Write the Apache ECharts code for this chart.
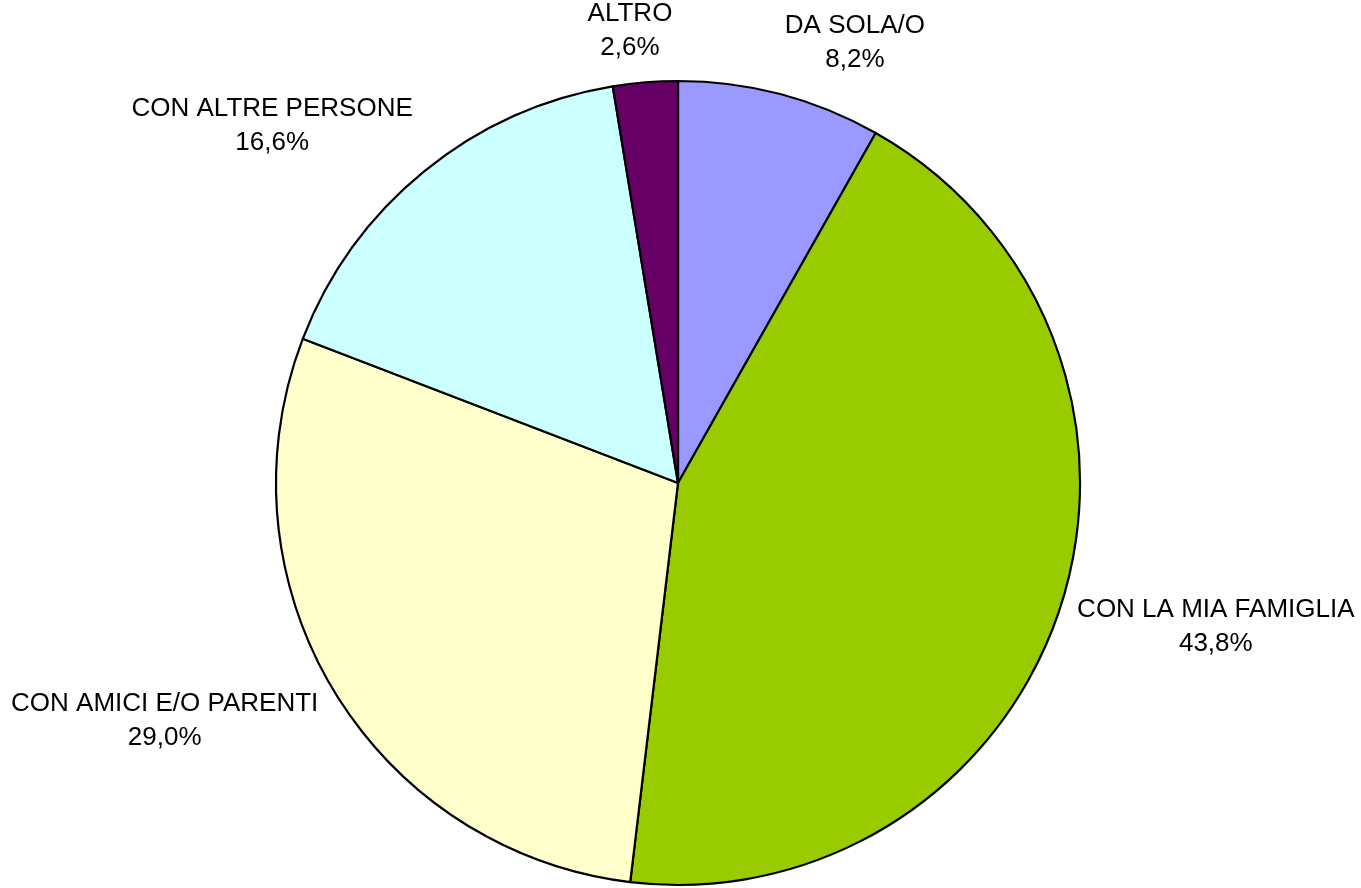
<!DOCTYPE html>
<html><head><meta charset="utf-8">
<script src="https://cdn.jsdelivr.net/npm/echarts@6/dist/echarts.min.js"></script>
<style>html,body{margin:0;padding:0;background:#fff}#c{width:1361px;height:888px}</style>
</head><body><div id="c"></div>
<script>
const categories = ['DA SOLA/O', 'CON LA MIA FAMIGLIA', 'CON AMICI E/O PARENTI', 'CON ALTRE PERSONE', 'ALTRO'];
const values = [8.2, 43.8, 29.0, 16.6, 2.6];
const colors = ['#9999FF', '#99CC00', '#FFFFCC', '#CCFFFF', '#660066'];

// layout constants
const CX = 678, CY = 483, R = 402;
const LABEL_GAP = 18, KX = 4, KY = 1.2;

const total = values.reduce((a, b) => a + b, 0);
const midAngles = [];
let cum = 0;
values.forEach(v => { midAngles.push((cum + v / 2) / total * 2 * Math.PI); cum += v; });

function fmt(v) { return v.toFixed(1).replace('.', ',') + '%'; }
function clampF(x, k) { return Math.sign(x) * Math.min(1, Math.abs(x) * k); }

const chart = echarts.init(document.getElementById('c'), null, { renderer: 'canvas' });
chart.setOption({
  animation: false,
  backgroundColor: '#fff',
  series: [{
    type: 'pie',
    center: [CX, CY],
    radius: R,
    startAngle: 90,
    clockwise: true,
    avoidLabelOverlap: false,
    data: categories.map((n, i) => ({ name: n, value: values[i], itemStyle: { color: colors[i] } })),
    itemStyle: { borderColor: '#000', borderWidth: 2.2 },
    label: {
      show: true, position: 'inside', color: '#000',
      fontFamily: 'Liberation Sans, Arial, sans-serif', fontSize: 26, lineHeight: 34,
      align: 'center',
      formatter: p => p.name + '\n' + fmt(p.value)
    },
    labelLine: { show: false },
    emphasis: { disabled: true },
    labelLayout: function (p) {
      const a = midAngles[p.dataIndex];
      const s = Math.sin(a), c = Math.cos(a);
      const w = p.labelRect.width, h = p.labelRect.height;
      const px = CX + (R + LABEL_GAP) * s;
      const py = CY - (R + LABEL_GAP) * c;
      return {
        x: px + clampF(s, KX) * w / 2,
        y: py - clampF(c, KY) * h / 2,
        align: 'center',
        verticalAlign: 'middle'
      };
    }
  }]
});
</script>
</body></html>
